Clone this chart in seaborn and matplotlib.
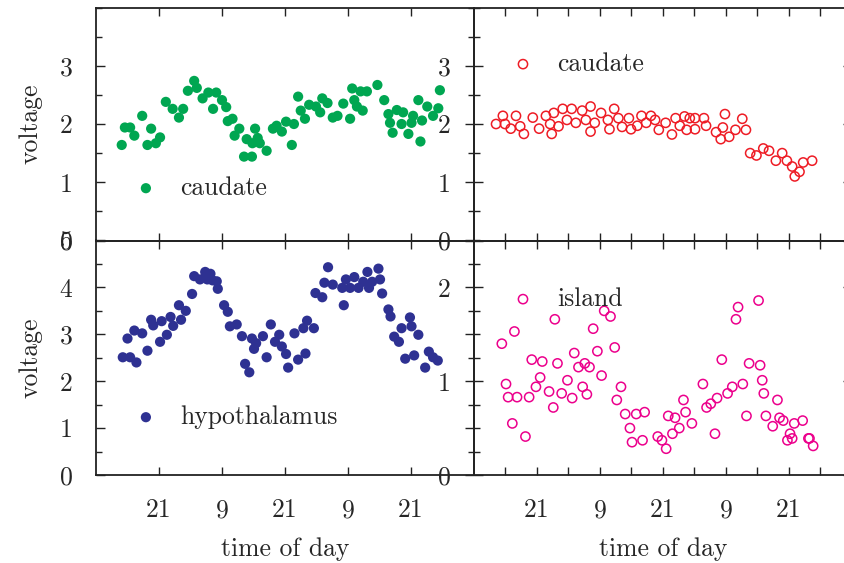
import numpy as np
import pandas as pd
import matplotlib
matplotlib.use("Agg")
import matplotlib.pyplot as plt
import seaborn as sns
from matplotlib.ticker import MultipleLocator

# ---------------- data (time in clock hours, starting 9:00 day 1) ----------------
caud1_t = [13.9, 14.5, 15.5, 16.3, 17.8, 18.8, 19.5, 20.4, 21.2, 22.3, 23.6, 24.8, 25.6, 26.5, 27.7,
           28.2, 29.3, 30.4, 31.3, 31.9, 33.0, 33.8, 34.1, 35.0, 35.4, 36.3, 37.7, 37.2, 38.7, 39.3,
           38.8, 39.8, 40.2, 41.5, 42.7, 43.4, 44.4, 45.2, 46.3, 46.7, 47.5, 48.0, 48.8, 49.6, 50.9,
           51.7, 52.1, 53.1, 54.1, 55.0, 56.1, 57.4, 57.8, 58.2, 58.7, 59.4, 59.8, 60.6, 62.6, 63.9,
           64.7, 65.0, 65.5, 66.3, 67.2, 67.5, 68.5, 69.1, 69.4, 70.4, 70.8, 71.1, 72.1, 73.2, 74.2, 74.5]
caud1_v = [1.64, 1.94, 1.94, 1.80, 2.14, 1.64, 1.92, 1.67, 1.77, 2.38, 2.26, 2.11, 2.26, 2.57, 2.74,
           2.62, 2.44, 2.54, 2.26, 2.54, 2.41, 2.29, 2.05, 2.09, 1.80, 1.92, 1.74, 1.44, 1.44, 1.92,
           1.67, 1.76, 1.67, 1.54, 1.92, 1.97, 1.87, 2.04, 1.64, 2.00, 2.47, 2.23, 2.09, 2.33, 2.30,
           2.20, 2.44, 2.36, 2.11, 2.14, 2.35, 2.09, 2.61, 2.41, 2.30, 2.56, 2.23, 2.56, 2.67, 2.41,
           2.17, 2.02, 1.85, 2.24, 2.00, 2.20, 1.83, 2.02, 2.14, 2.41, 1.70, 2.06, 2.30, 2.14, 2.27, 2.58]

caud2_t = [13.2, 14.5, 14.9, 16.0, 17.0, 17.8, 18.5, 20.2, 21.4, 22.7, 23.5, 23.8, 24.2, 25.1, 25.9,
           26.7, 27.6, 28.4, 29.6, 30.3, 31.2, 31.2, 32.0, 33.2, 34.5, 34.8, 35.7, 36.5, 37.2, 38.5,
           38.9, 40.1, 40.9, 41.8, 42.7, 43.5, 44.2, 45.5, 46.7, 47.4, 48.2, 49.1, 49.5, 50.1, 51.1,
           51.1, 52.8, 53.2, 55.1, 56.0, 56.4, 56.8, 57.6, 58.8, 60.1, 60.8, 61.6, 62.8, 64.1, 65.2,
           66.5, 67.7, 68.6, 69.6, 70.1, 71.0, 71.7, 73.4]
caud2_v = [2.00, 2.14, 2.00, 1.92, 2.14, 1.96, 1.83, 2.11, 1.92, 2.14, 2.00, 1.83, 2.19, 1.96, 2.26,
           2.07, 2.26, 2.02, 2.23, 2.07, 2.30, 1.87, 2.02, 2.19, 2.07, 1.91, 2.26, 2.10, 1.95, 2.10,
           1.91, 1.97, 2.14, 2.02, 2.14, 2.07, 1.90, 2.02, 1.82, 2.10, 1.97, 2.13, 1.90, 2.10, 2.10,
           1.91, 2.10, 1.97, 1.86, 1.74, 1.94, 2.17, 1.78, 1.90, 2.09, 1.90, 1.50, 1.46, 1.58, 1.54,
           1.37, 1.50, 1.37, 1.27, 1.10, 1.18, 1.34, 1.37]

hypo_t = [14.1, 15.0, 15.5, 16.3, 16.7, 17.8, 18.8, 19.5, 19.9, 21.2, 21.5, 22.5, 23.2, 23.7, 24.8,
          25.2, 26.1, 27.3, 27.7, 28.8, 29.8, 30.2, 30.8, 31.2, 32.0, 32.2, 33.4, 34.1, 34.5, 35.8,
          36.8, 37.4, 38.2, 38.7, 39.1, 39.5, 40.8, 41.5, 42.3, 43.1, 43.9, 44.4, 45.2, 45.6, 46.8,
          47.5, 48.5, 48.9, 49.2, 50.5, 50.8, 52.1, 52.5, 53.2, 54.1, 55.9, 56.2, 56.6, 57.4, 58.2,
          59.0, 59.9, 60.7, 61.0, 61.6, 62.8, 63.1, 63.5, 64.7, 65.1, 65.8, 66.7, 67.2, 67.9, 68.8,
          69.1, 69.6, 70.4, 71.7, 72.4, 73.2, 74.1]
hypo_v = [2.51, 2.91, 2.51, 3.08, 2.40, 3.02, 2.65, 3.31, 3.19, 2.84, 3.28, 2.99, 3.37, 3.18, 3.62,
          3.31, 3.50, 3.86, 4.24, 4.17, 4.33, 4.17, 4.29, 4.15, 4.13, 3.97, 3.62, 3.48, 3.17, 3.21,
          2.96, 2.37, 2.19, 2.91, 2.69, 2.81, 2.96, 2.51, 3.21, 2.84, 2.99, 2.74, 2.58, 2.29, 3.02,
          2.46, 3.13, 2.59, 3.29, 3.13, 3.88, 3.79, 4.10, 4.43, 4.06, 3.99, 3.62, 4.17, 3.99, 4.22,
          3.99, 4.12, 4.33, 3.99, 4.12, 4.40, 4.17, 3.87, 3.53, 3.38, 2.95, 2.84, 3.13, 2.48, 3.36,
          3.17, 2.55, 2.99, 2.29, 2.63, 2.51, 2.44]

isl_t = [14.3, 15.1, 15.5, 16.3, 16.7, 17.2, 18.8, 19.5, 20.0, 20.8, 21.6, 22.0, 23.3, 24.1, 24.4,
         24.9, 25.7, 26.8, 27.7, 28.1, 28.9, 29.7, 30.1, 30.5, 31.0, 31.7, 32.5, 33.3, 33.8, 35.0,
         35.8, 36.2, 37.0, 37.8, 38.7, 39.1, 39.9, 41.1, 41.5, 44.0, 44.8, 45.6, 46.0, 46.8, 47.3,
         48.1, 48.9, 49.3, 50.5, 52.6, 53.3, 54.1, 54.9, 55.3, 56.2, 57.3, 58.2, 58.9, 59.3, 60.2,
         60.9, 61.4, 63.2, 63.5, 63.9, 64.2, 64.6, 65.9, 66.8, 67.2, 67.9, 68.7, 69.2, 69.6, 70.0,
         71.6, 72.7, 72.9, 73.6]
isl_v = [1.40, 0.97, 0.83, 0.55, 1.53, 0.83, 0.41, 0.83, 1.23, 0.94, 1.04, 1.21, 0.89, 0.72, 1.66,
         1.19, 0.87, 1.01, 0.82, 1.30, 1.15, 0.94, 1.19, 0.86, 1.15, 1.56, 1.32, 1.06, 1.75, 1.69,
         1.36, 0.80, 0.94, 0.65, 0.50, 0.35, 0.65, 0.37, 0.67, 0.41, 0.37, 0.28, 0.63, 0.44, 0.61,
         0.50, 0.80, 0.67, 0.55, 0.97, 0.72, 0.76, 0.44, 0.82, 1.23, 0.87, 0.94, 1.66, 1.79, 0.97,
         0.63, 1.19, 1.86, 1.17, 1.01, 0.87, 0.63, 0.52, 0.80, 0.61, 0.58, 0.37, 0.44, 0.39, 0.55,
         0.58, 0.39, 0.39, 0.31]

labels_top_left = "caudate"
labels_top_right = "caudate"
labels_bot_left = "hypothalamus"
labels_bot_right = "island"
xtick_pos = [21, 33, 45, 57, 69]
xtick_lab = ["21", "9", "21", "9", "21"]

# ---------------- style ----------------
sns.set_style("ticks")
plt.rcParams["font.family"] = ["cmr10", "DejaVu Serif"]
plt.rcParams["axes.unicode_minus"] = False
plt.rcParams["font.size"] = 18.5
TXT = "#262626"
plt.rcParams["text.color"] = TXT
plt.rcParams["xtick.color"] = TXT
plt.rcParams["ytick.color"] = TXT
plt.rcParams["axes.labelcolor"] = TXT

GREEN = "#00A651"
RED = "#EE1C25"
NAVY = "#2E3192"
MAGENTA = "#EC008C"

fig = plt.figure(figsize=(8.45, 5.63), dpi=100)
W = 378 / 845
ax_tl = fig.add_axes([96 / 845, 1 - 240.5 / 563, W, 233 / 563])
ax_tr = fig.add_axes([474 / 845, 1 - 240.5 / 563, W, 233 / 563])
ax_bl = fig.add_axes([96 / 845, 1 - 475 / 563, W, 234.5 / 563])
ax_br = fig.add_axes([474 / 845, 1 - 475 / 563, W, 234.5 / 563])

df_cl = pd.DataFrame({"t": caud1_t, "v": caud1_v})
df_cr = pd.DataFrame({"t": caud2_t, "v": caud2_v})
df_h = pd.DataFrame({"t": hypo_t, "v": hypo_v})
df_i = pd.DataFrame({"t": isl_t, "v": isl_v})

S_FILL = 54
S_OPEN = 44
sns.scatterplot(data=df_cl, x="t", y="v", ax=ax_tl, color=GREEN, s=S_FILL,
                edgecolor="none", linewidth=0, label=labels_top_left)
sns.scatterplot(data=df_h, x="t", y="v", ax=ax_bl, color=NAVY, s=S_FILL,
                edgecolor="none", linewidth=0, label=labels_bot_left)
sns.scatterplot(data=df_cr, x="t", y="v", ax=ax_tr, color=RED, s=S_OPEN,
                facecolor="none", edgecolor=RED, linewidth=1.1, label=labels_top_right)
sns.scatterplot(data=df_i, x="t", y="v", ax=ax_br, color=MAGENTA, s=S_OPEN,
                facecolor="none", edgecolor=MAGENTA, linewidth=1.1, label=labels_bot_right)

for ax in (ax_tl, ax_tr, ax_bl, ax_br):
    ax.set_xlim(9, 81)
    ax.patch.set_alpha(0.0)
    for sp in ax.spines.values():
        sp.set_linewidth(1.3)
        sp.set_color("#222222")
    ax.tick_params(which="both", direction="in", top=True, right=True,
                   width=1.0, color="#222222", labelsize=18.5, pad=17)
    ax.tick_params(axis="y", which="major", length=6.8)
    ax.tick_params(axis="y", which="minor", length=4.3)
    ax.tick_params(axis="x", which="both", length=5.8)
    ax.set_xlabel("")
    ax.set_ylabel("")

# x ticks
for ax in (ax_tl, ax_bl):
    ax.set_xticks(xtick_pos, xtick_lab)
for ax in (ax_tr, ax_br):
    six = list(range(15, 81, 6))
    ax.set_xticks(six, [xtick_lab[xtick_pos.index(t)] if t in xtick_pos else "" for t in six])
for ax in (ax_tl, ax_tr):
    ax.tick_params(axis="x", labelbottom=False)

# y ticks
for ax in (ax_tl, ax_tr):
    ax.set_ylim(0, 4)
    ax.set_yticks([0, 1, 2, 3], ["0", "1", "2", "3"])
    ax.yaxis.set_minor_locator(MultipleLocator(0.5))
ax_bl.set_ylim(0, 5)
ax_bl.set_yticks([0, 1, 2, 3, 4, 5], ["0", "1", "2", "3", "4", "5"])
ax_bl.yaxis.set_minor_locator(MultipleLocator(0.5))
ax_br.set_ylim(0, 2.5)
ax_br.set_yticks([0, 1, 2], ["0", "1", "2"])
ax_br.yaxis.set_minor_locator(MultipleLocator(0.25))

ax_tl.set_ylabel("voltage", labelpad=12)
ax_bl.set_ylabel("voltage", labelpad=12)
ax_bl.set_xlabel("time of day", labelpad=11)
ax_br.set_xlabel("time of day", labelpad=11)

leg_kw = dict(loc="center left", frameon=False, borderpad=0, borderaxespad=0,
              handlelength=1.0, handletextpad=0.82, fontsize=18.5, scatterpoints=1)
ax_tl.legend(bbox_to_anchor=(0.098, 0.225), **leg_kw)
ax_tr.legend(bbox_to_anchor=(0.0956, 0.7575), **leg_kw)
ax_bl.legend(bbox_to_anchor=(0.098, 0.247), **leg_kw)
ax_br.legend(bbox_to_anchor=(0.0956, 0.7505), **leg_kw)

fig.savefig("out.png", dpi=100, facecolor="white")
